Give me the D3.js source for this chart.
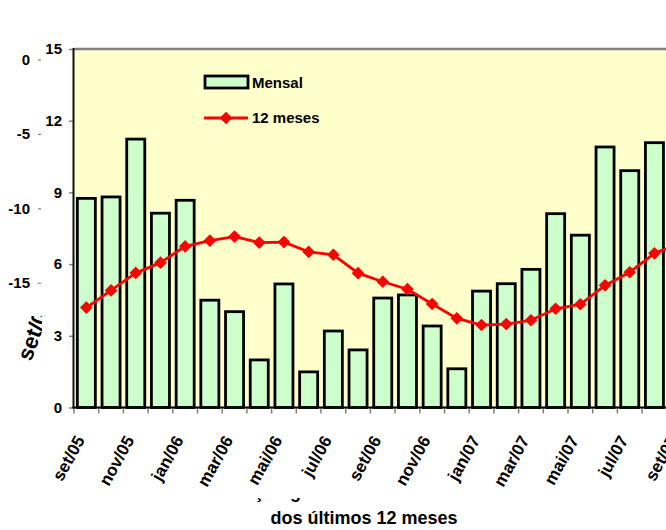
<!DOCTYPE html>
<html>
<head>
<meta charset="utf-8">
<script src="https://cdn.jsdelivr.net/npm/d3@7/dist/d3.min.js"></script>
<style>
  html, body { margin: 0; padding: 0; background: #ffffff; }
  svg { display: block; font-family: "Liberation Sans", Arial, sans-serif; font-weight: bold; }
</style>
</head>
<body>
<svg id="chart" width="666" height="530"></svg>
<script>
// Monthly categories, Sep/2005 to Sep/2007
const months = ["set/05","out/05","nov/05","dez/05","jan/06","fev/06","mar/06","abr/06",
  "mai/06","jun/06","jul/06","ago/06","set/06","out/06","nov/06","dez/06",
  "jan/07","fev/07","mar/07","abr/07","mai/07","jun/07","jul/07","ago/07","set/07"];

// Monthly values (bars)
const mensal = [8.75, 8.81, 11.23, 8.13, 8.67, 4.49, 4.01, 1.99,
  5.17, 1.49, 3.20, 2.41, 4.58, 4.71, 3.41, 1.62,
  4.87, 5.18, 5.78, 8.11, 7.21, 10.90, 9.91, 11.08, 10.60];

// 12-month accumulated values (line)
const acum12 = [4.18, 4.90, 5.63, 6.06, 6.74, 6.98, 7.15, 6.90,
  6.92, 6.51, 6.39, 5.62, 5.26, 4.95, 4.33, 3.73,
  3.45, 3.49, 3.65, 4.13, 4.32, 5.11, 5.66, 6.45, 6.85];

// Axis tick labels
const xLabels = ["set/05","nov/05","jan/06","mar/06","mai/06","jul/06","set/06",
  "nov/06","jan/07","mar/07","mai/07","jul/07","set/07"];
const yTicks = [0, 3, 6, 9, 12, 15];
const outerTicks = [0, -5, -10, -15];

const seriesNames = ["Mensal", "12 meses"];

const svg = d3.select("#chart");
const W = 666, H = 530;
const plot = { left: 74, top: 49, bottom: 407.5, right: 74 + 25 * 24.7 };

const x = d3.scaleBand()
  .domain(months)
  .range([plot.left, plot.right])
  .paddingInner(0.27)
  .paddingOuter(0.135);
const step = x.step();
const cx = m => x(m) + x.bandwidth() / 2;

const y = d3.scaleLinear().domain([0, 15]).range([plot.bottom, plot.top]);
const yOuter = d3.scaleLinear().domain([-15, 0]).range([282.7, 59.5]);

// plot area background
svg.append("rect")
  .attr("x", plot.left).attr("y", plot.top)
  .attr("width", plot.right - plot.left).attr("height", plot.bottom - plot.top)
  .attr("fill", "#ffffcc");

// top border
svg.append("line")
  .attr("x1", plot.left).attr("x2", plot.right)
  .attr("y1", plot.top).attr("y2", plot.top)
  .attr("stroke", "#808080").attr("stroke-width", 2.5);

// bars
svg.append("g").selectAll("rect")
  .data(months.map((m, i) => ({ m, v: mensal[i] })))
  .join("rect")
  .attr("x", d => x(d.m))
  .attr("y", d => y(d.v))
  .attr("width", x.bandwidth())
  .attr("height", d => y(0) - y(d.v))
  .attr("fill", "#ccffcc")
  .attr("stroke", "#000")
  .attr("stroke-width", 2.8);

// 12-month line
const pts = months.map((m, i) => ({ m, v: acum12[i] }));
svg.append("path")
  .datum(pts)
  .attr("fill", "none")
  .attr("stroke", "#ff0000")
  .attr("stroke-width", 2.8)
  .attr("d", d3.line().x(d => cx(d.m)).y(d => y(d.v)));

const diamond = d3.symbol(d3.symbolSquare, 80);
svg.append("g").selectAll("path")
  .data(pts)
  .join("path")
  .attr("d", diamond)
  .attr("fill", "#ff0000")
  .attr("transform", d => `translate(${cx(d.m)},${y(d.v)}) rotate(45)`);

// inner left axis
const yAxis = svg.append("g")
  .attr("transform", `translate(${plot.left},0)`)
  .call(d3.axisLeft(y).tickValues(yTicks).tickSize(5).tickPadding(7).tickFormat(d3.format("d")));
yAxis.select(".domain").remove();
yAxis.selectAll(".tick line").attr("stroke", "#808080").attr("stroke-width", 1.5);
yAxis.selectAll(".tick text")
  .attr("font-size", 15).attr("font-weight", "bold")
  .attr("font-family", "Liberation Sans, Arial, sans-serif").attr("fill", "#000");
svg.append("line")
  .attr("x1", plot.left - 0.5).attr("x2", plot.left - 0.5)
  .attr("y1", plot.top - 1).attr("y2", plot.bottom + 1)
  .attr("stroke", "#111").attr("stroke-width", 2);

// outer left axis
const yAxis2 = svg.append("g")
  .attr("transform", "translate(41,0)")
  .call(d3.axisLeft(yOuter).tickValues(outerTicks).tickSize(3).tickPadding(8).tickFormat(d3.format("d")));
yAxis2.select(".domain").remove();
yAxis2.selectAll(".tick line").attr("stroke", "#808080").attr("stroke-width", 1.2);
yAxis2.selectAll(".tick text")
  .attr("font-size", 15).attr("font-weight", "bold")
  .attr("font-family", "Liberation Sans, Arial, sans-serif").attr("fill", "#000")
  .text(d => d === 0 ? "0" : "-" + Math.abs(d));

// bottom axis: ticks between categories
const tickPos = d3.range(months.length + 1).map(i => plot.left + i * step);
svg.append("g").selectAll("line")
  .data(tickPos)
  .join("line")
  .attr("x1", d => d).attr("x2", d => d)
  .attr("y1", plot.bottom).attr("y2", plot.bottom + 6)
  .attr("stroke", "#808080").attr("stroke-width", 1.5);
svg.append("line")
  .attr("x1", plot.left - 1.5).attr("x2", plot.right)
  .attr("y1", plot.bottom).attr("y2", plot.bottom)
  .attr("stroke", "#000").attr("stroke-width", 2);

// category labels
svg.append("g").selectAll("text")
  .data(xLabels)
  .join("text")
  .attr("transform", d => `translate(${cx(d) - 1},${440}) rotate(-61)`)
  .attr("text-anchor", "end")
  .attr("font-size", 17)
  .attr("fill", "#000")
  .text(d => d);

// clipped label of the outer scale
const defs = svg.append("defs");
defs.append("clipPath").attr("id", "clipLeft")
  .append("rect").attr("x", 0).attr("y", 316).attr("width", 42).attr("height", 214);
svg.append("g")
  .attr("clip-path", "url(#clipLeft)")
  .append("text")
  .attr("transform", "translate(31,362) rotate(-70)")
  .attr("font-size", 22)
  .attr("fill", "#000")
  .text("set/05");

// axis title (first line partly covered)
defs.append("clipPath").attr("id", "clipTitle")
  .append("rect").attr("x", 0).attr("y", 498).attr("width", W).attr("height", 32);
svg.append("g")
  .attr("clip-path", "url(#clipTitle)")
  .append("text")
  .attr("x", 211).attr("y", 497.5)
  .attr("font-size", 18)
  .attr("fill", "#000")
  .text("Variação geral mensal e acumulada");
svg.append("text")
  .attr("x", 364).attr("y", 524)
  .attr("text-anchor", "middle")
  .attr("font-size", 18)
  .attr("fill", "#000")
  .text("dos últimos 12 meses");

// legend
const lg = svg.append("g");
lg.append("rect")
  .attr("x", 205).attr("y", 76).attr("width", 43).attr("height", 12)
  .attr("fill", "#ccffcc").attr("stroke", "#000").attr("stroke-width", 2.8);
lg.append("text").attr("x", 252).attr("y", 88).attr("font-size", 15).attr("fill", "#000").text(seriesNames[0]);
lg.append("line")
  .attr("x1", 204).attr("x2", 248).attr("y1", 118).attr("y2", 118)
  .attr("stroke", "#ff0000").attr("stroke-width", 2.8);
lg.append("path").attr("d", diamond).attr("fill", "#ff0000")
  .attr("transform", "translate(226,118) rotate(45)");
lg.append("text").attr("x", 252).attr("y", 123).attr("font-size", 15).attr("fill", "#000").text(seriesNames[1]);
</script>
</body>
</html>
